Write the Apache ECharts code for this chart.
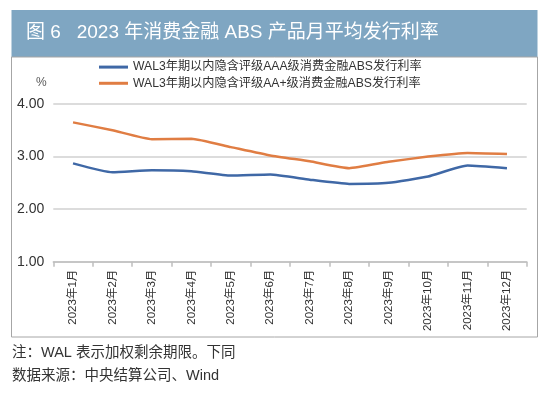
<!DOCTYPE html>
<html>
<head>
<meta charset="utf-8">
<script src="https://cdn.jsdelivr.net/npm/echarts@6/dist/echarts.min.js"></script>
<style>
html,body{margin:0;padding:0;background:#fff;}
#c{width:550px;height:395px;}
</style>
</head>
<body>
<div id="c"></div>
<script>
const categories = ['2023年1月','2023年2月','2023年3月','2023年4月','2023年5月','2023年6月','2023年7月','2023年8月','2023年9月','2023年10月','2023年11月','2023年12月'];
const seriesAAA = [2.87, 2.70, 2.74, 2.72, 2.64, 2.66, 2.56, 2.48, 2.50, 2.62, 2.83, 2.78];
const seriesAAplus = [3.65, 3.50, 3.33, 3.34, 3.18, 3.02, 2.91, 2.78, 2.90, 3.00, 3.07, 3.05];
const nameAAA = 'WAL3年期以内隐含评级AAA级消费金融ABS发行利率';
const nameAAplus = 'WAL3年期以内隐含评级AA+级消费金融ABS发行利率';
const titleText = '图 6   2023 年消费金融 ABS 产品月平均发行利率';
const note1 = '注：WAL 表示加权剩余期限。下同';
const note2 = '数据来源：中央结算公司、Wind';

const font = '"Liberation Sans", "Noto Sans CJK SC", sans-serif';
const chart = echarts.init(document.getElementById('c'), null, {renderer:'canvas'});
chart.setOption({
  animation: false,
  backgroundColor: '#fff',
  textStyle: {fontFamily: font},
  graphic: [
    {type:'rect', shape:{x:11.5,y:10,width:526,height:47}, style:{fill:'#7fa6c2'}, z:0},
    {type:'rect', shape:{x:11.5,y:57,width:526,height:280}, style:{fill:'none', stroke:'#a6a6a6', lineWidth:1}, z:0},
    {type:'text', left:26, top:23, style:{text:titleText, fill:'#fff', font:'19px ' + font}},
    {type:'text', left:36, top:77, style:{text:'%', fill:'#595959', font:'12px ' + font}},
    {type:'text', left:12, top:346, style:{text:note1, fill:'#333', font:'14.5px ' + font}},
    {type:'text', left:12, top:369, style:{text:note2, fill:'#333', font:'14.5px ' + font}}
  ],
  legend: {
    orient:'vertical', left:99, top:61, itemGap:4, padding:0,
    itemWidth:29, itemHeight:3, icon:'rect',
    textStyle:{fontSize:12.2, color:'#333', fontFamily:font},
    data:[nameAAA, nameAAplus]
  },
  grid: {left:53.3, right:23.3, top:104, bottom:133.3, containLabel:false},
  xAxis: {
    type:'category', data:categories, boundaryGap:true,
    axisLine:{lineStyle:{color:'#bfbfbf', width:1.5}},
    axisTick:{show:true, length:5, lineStyle:{color:'#bfbfbf', width:1.5}},
    axisLabel:{rotate:90, color:'#333', fontSize:11.5, interval:0, margin:8, fontFamily:font}
  },
  yAxis: {
    type:'value', min:1, max:4, interval:1,
    axisLine:{show:false}, axisTick:{show:false},
    axisLabel:{color:'#333', fontSize:14, margin:9, formatter:v=>v.toFixed(2), fontFamily:font},
    splitLine:{lineStyle:{color:'#d0d0d0', width:1.5}}
  },
  series: [
    {name:nameAAA, type:'line', data:seriesAAA, smooth:0.15, showSymbol:false, symbol:'none',
     lineStyle:{color:'#3f68a6', width:2.5}, itemStyle:{color:'#3f68a6'}},
    {name:nameAAplus, type:'line', data:seriesAAplus, smooth:0.15, showSymbol:false, symbol:'none',
     lineStyle:{color:'#e07d43', width:2.5}, itemStyle:{color:'#e07d43'}}
  ]
});
</script>
</body>
</html>
